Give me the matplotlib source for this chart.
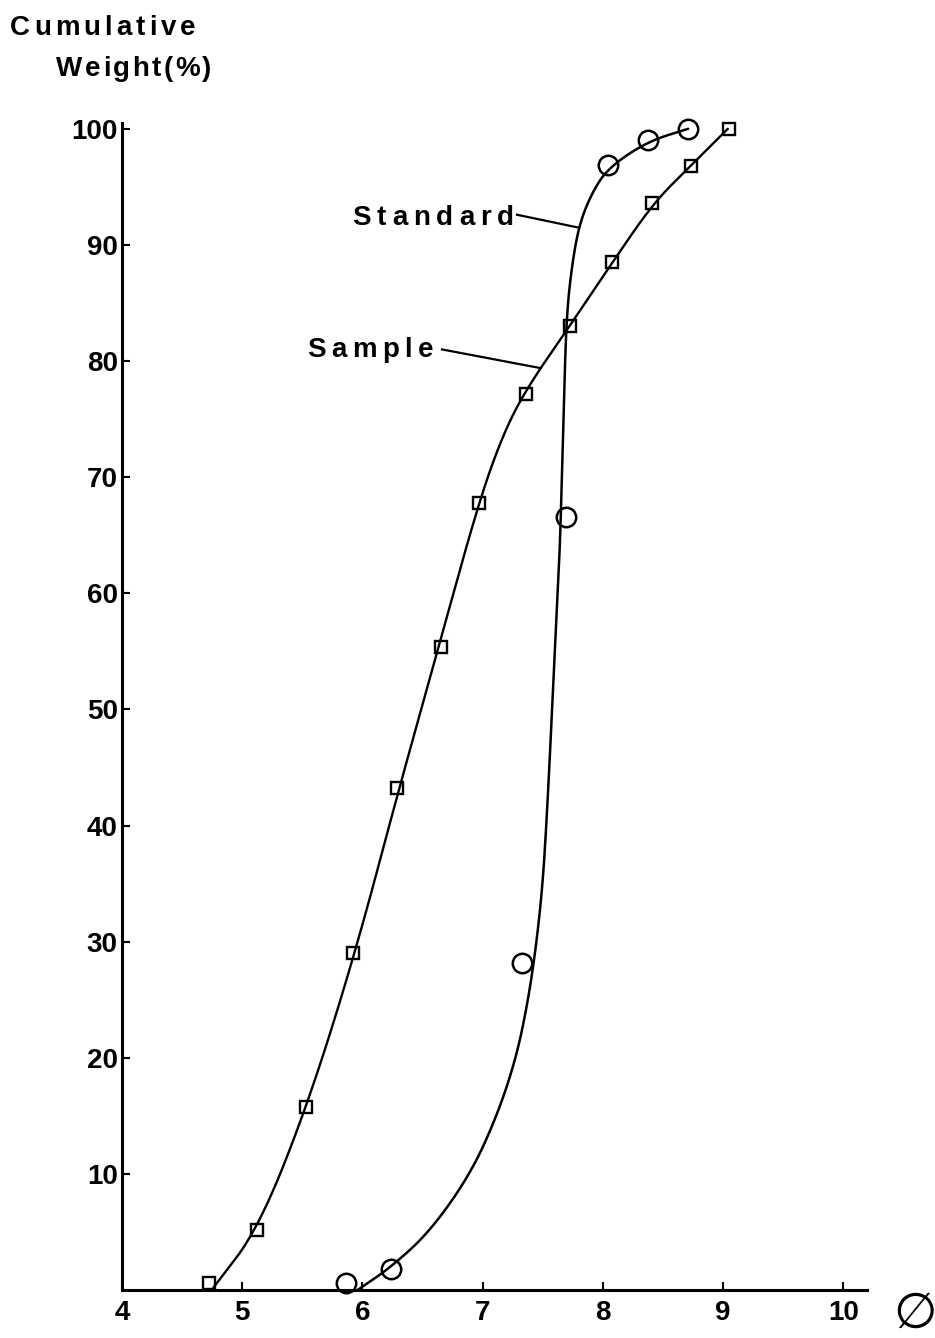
import numpy as np
import matplotlib
matplotlib.use("Agg")
import matplotlib.pyplot as plt
from matplotlib.transforms import IdentityTransform

# Measured cumulative weight (%) against grain size (phi units)
sample_phi = [4.72, 5.12, 5.53, 5.92, 6.29, 6.65, 6.97, 7.36, 7.73, 8.08, 8.41, 8.73, 9.05]
sample_pct = [0.6, 5.2, 15.8, 29.0, 43.2, 55.4, 67.8, 77.2, 83.0, 88.5, 93.6, 96.8, 100.0]

standard_phi = [5.86, 6.24, 7.33, 7.69, 8.04, 8.38, 8.71]
standard_pct = [0.6, 1.8, 28.2, 66.6, 96.9, 99.0, 100.0]

# Hand-fitted smooth curves (guide points along each drawn curve)
sample_fit_phi = [4.76, 5.13, 5.54, 5.94, 6.30, 6.64, 6.95, 7.15, 7.35, 7.73, 8.08, 8.42, 8.72, 9.04]
sample_fit_pct = [0.2, 5.2, 15.8, 29.0, 43.0, 55.6, 67.2, 73.2, 77.4, 83.1, 88.5, 93.6, 96.7, 100.0]

standard_fit_phi = [5.96, 6.23, 6.56, 6.90, 7.12, 7.28, 7.38, 7.45, 7.50, 7.53, 7.56, 7.60,
                    7.64, 7.66, 7.68, 7.70, 7.74, 7.80, 7.90, 8.04, 8.37, 8.71]
standard_fit_pct = [0.0, 1.9, 5.0, 10.0, 15.0, 20.0, 25.0, 30.0, 35.0, 40.0, 46.0, 55.0,
                    63.0, 70.0, 78.0, 84.0, 88.0, 91.6, 94.3, 96.6, 98.9, 100.0]

x_ticks = [4, 5, 6, 7, 8, 9, 10]
y_ticks = [10, 20, 30, 40, 50, 60, 70, 80, 90, 100]

W, H = 935, 1338
TEXT_FONT = "Liberation Sans"

fig = plt.figure(figsize=(W / 100, H / 100), dpi=100)
ax = fig.add_axes([122 / W, 48 / H, (867 - 122) / W, (1290 - 123) / H])
ax.set_xlim(4, 10.198)
ax.set_ylim(0, 100.5)

for side in ("top", "right"):
    ax.spines[side].set_visible(False)
for side in ("left", "bottom"):
    ax.spines[side].set_linewidth(2.2)

ax.set_xticks(x_ticks)
ax.set_yticks(y_ticks)
ax.tick_params(direction="in", length=6, width=1.5, labelsize=20)
ax.tick_params(axis="x", pad=7)
ax.tick_params(axis="y", pad=3)
for lab in ax.get_xticklabels() + ax.get_yticklabels():
    lab.set_fontfamily(TEXT_FONT)
    lab.set_fontweight("bold")


def chaikin(xs, ys, iterations=6):
    """Corner-cutting smoothing of a polyline; end points are kept fixed."""
    pts = np.column_stack([xs, ys]).astype(float)
    for _ in range(iterations):
        q = 0.75 * pts[:-1] + 0.25 * pts[1:]
        r = 0.25 * pts[:-1] + 0.75 * pts[1:]
        mid = np.empty((2 * len(q), 2))
        mid[0::2] = q
        mid[1::2] = r
        pts = np.vstack([pts[0], mid, pts[-1]])
    return pts[:, 0], pts[:, 1]


sx, sy = chaikin(sample_fit_phi, sample_fit_pct)
ax.plot(sx, sy, color="black", lw=1.7, solid_capstyle="round", clip_on=False)
tx, ty = chaikin(standard_fit_phi, standard_fit_pct)
ax.plot(tx, ty, color="black", lw=1.8, solid_capstyle="round", clip_on=False)

ax.plot(sample_phi, sample_pct, linestyle="none", marker="s", markersize=8,
        markerfacecolor="none", markeredgecolor="black", markeredgewidth=1.7, clip_on=False)
ax.plot(standard_phi, standard_pct, linestyle="none", marker="o", markersize=14,
        markerfacecolor="none", markeredgecolor="black", markeredgewidth=1.8, clip_on=False)

# Leader lines from the curve names
ax.plot([7.286, 7.794], [92.6, 91.5], color="black", lw=1.6)
ax.plot([6.662, 7.478], [81.0, 79.4], color="black", lw=1.6)

fig.canvas.draw()
renderer = fig.canvas.get_renderer()


def tracked_text(x_px, baseline_px, s, size, gap_px):
    """Bold text with extra letter spacing, placed in pixel coordinates from top-left."""
    cur = x_px
    for ch in s:
        t = fig.text(cur, H - baseline_px, ch, transform=IdentityTransform(),
                     fontsize=size, fontweight="bold", family=TEXT_FONT,
                     ha="left", va="baseline")
        w = t.get_window_extent(renderer).width
        cur += w + gap_px


tracked_text(10, 35, "Cumulative", 20, 4.0)
tracked_text(56, 76, "Weight(%)", 20, 2.5)
tracked_text(352, 225, "Standard", 20, 6.0)
tracked_text(307, 357, "Sample", 20, 5.5)

fig.text(915, H - 1314, "\u2205", transform=IdentityTransform(), fontsize=36,
         family="DejaVu Sans", ha="center", va="center")

fig.savefig("out.png", dpi=100)
